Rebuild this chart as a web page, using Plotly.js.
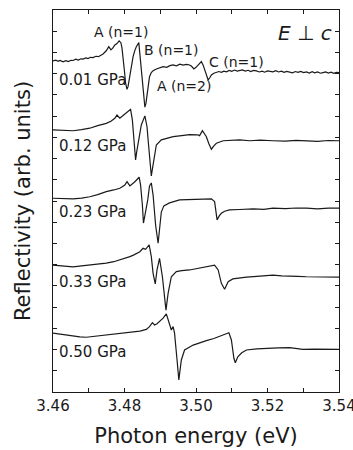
<!DOCTYPE html>
<html>
<head>
<meta charset="utf-8">
<script src="https://cdn.plot.ly/plotly-3.0.1.min.js"></script>
<style>html,body{margin:0;padding:0;background:#fff;}#chart{width:353px;height:450px;}</style>
</head>
<body>
<div id="chart"></div>
<script>
// Photon energy (eV) and reflectivity (arb. units, vertically offset) for each pressure
const energy001 = [3.4600,3.4608,3.4614,3.4620,3.4628,3.4636,3.4643,3.4650,3.4656,3.4664,3.4671,3.4678,3.4684,3.4692,3.4698,3.4705,3.4712,3.4720,3.4727,3.4733,3.4740,3.4749,3.4756,3.4762,3.4767,3.4773,3.4779,3.4785,3.4790,3.4793,3.4796,3.4800,3.4803,3.4807,3.4810,3.4813,3.4818,3.4824,3.4829,3.4833,3.4840,3.4844,3.4848,3.4852,3.4855,3.4857,3.4860,3.4863,3.4866,3.4870,3.4875,3.4880,3.4889,3.4898,3.4908,3.4918,3.4927,3.4936,3.4945,3.4955,3.4964,3.4973,3.4980,3.4987,3.4994,3.5000,3.5006,3.5012,3.5015,3.5020,3.5024,3.5030,3.5034,3.5039,3.5043,3.5050,3.5057,3.5064,3.5071,3.5078,3.5085,3.5093,3.5100,3.5108,3.5115,3.5122,3.5130,3.5138,3.5146,3.5153,3.5161,3.5169,3.5177,3.5185,3.5192,3.5200,3.5208,3.5215,3.5223,3.5231,3.5239,3.5246,3.5254,3.5262,3.5270,3.5278,3.5285,3.5293,3.5301,3.5309,3.5317,3.5325,3.5332,3.5340,3.5348,3.5355,3.5363,3.5370,3.5378,3.5385,3.5393,3.5400];
const refl001 = [15.60,15.64,15.58,15.62,15.56,15.61,15.57,15.63,15.62,15.68,15.64,15.70,15.69,15.74,15.71,15.77,15.76,15.82,15.80,15.86,15.93,16.08,16.27,16.12,16.20,16.35,16.42,16.54,16.46,16.20,15.80,15.10,14.56,14.26,14.40,14.70,15.30,15.80,16.10,16.27,16.46,15.80,15.00,14.39,13.80,13.42,13.60,13.92,14.45,14.86,15.05,15.14,15.22,15.28,15.33,15.30,15.38,15.41,15.37,15.45,15.40,15.44,15.42,15.36,15.22,15.30,15.41,15.55,15.57,15.40,15.17,14.85,14.70,14.82,14.94,15.02,15.05,15.10,15.06,15.12,15.09,15.15,15.11,15.17,15.12,15.14,15.18,15.12,15.16,15.10,15.15,15.13,15.08,15.12,15.07,15.13,15.10,15.09,15.14,15.08,15.12,15.06,15.11,15.09,15.04,15.10,15.06,15.11,15.05,15.08,15.03,15.09,15.04,15.08,15.02,15.05,15.08,15.03,15.07,15.02,15.06,15.05];

const energy012 = [3.4600,3.4628,3.4656,3.4680,3.4703,3.4725,3.4749,3.4762,3.4773,3.4779,3.4783,3.4787,3.4796,3.4805,3.4817,3.4822,3.4826,3.4829,3.4831,3.4834,3.4838,3.4847,3.4857,3.4863,3.4867,3.4870,3.4875,3.4878,3.4882,3.4889,3.4903,3.4920,3.4936,3.4960,3.4982,3.5004,3.5010,3.5018,3.5029,3.5036,3.5043,3.5050,3.5057,3.5076,3.5100,3.5122,3.5150,3.5180,3.5215,3.5250,3.5280,3.5309,3.5340,3.5370,3.5400];
const refl012 = [12.35,12.33,12.31,12.36,12.43,12.55,12.66,12.76,12.90,13.05,12.95,12.90,13.03,13.16,13.32,12.82,12.10,11.40,10.93,11.30,11.72,12.58,13.01,12.50,11.70,11.09,10.18,10.50,10.93,11.64,11.88,11.96,12.03,12.08,12.13,12.12,12.08,12.31,12.03,11.70,11.44,11.60,11.72,11.84,11.86,11.88,11.84,11.87,11.84,11.82,11.86,11.84,11.81,11.85,11.84];

const energy023 = [3.4600,3.4628,3.4656,3.4680,3.4703,3.4725,3.4749,3.4770,3.4787,3.4801,3.4807,3.4815,3.4822,3.4829,3.4841,3.4845,3.4850,3.4853,3.4858,3.4865,3.4870,3.4875,3.4880,3.4887,3.4894,3.4898,3.4903,3.4910,3.4926,3.4954,3.4980,3.5001,3.5025,3.5043,3.5052,3.5059,3.5065,3.5071,3.5080,3.5094,3.5122,3.5160,3.5190,3.5215,3.5250,3.5280,3.5309,3.5340,3.5370,3.5400];
const refl023 = [9.13,9.11,9.10,9.14,9.20,9.30,9.44,9.52,9.60,9.75,9.91,9.71,9.80,9.91,10.12,9.75,8.81,7.96,8.40,9.05,9.71,9.85,9.28,7.87,7.01,7.73,8.48,8.77,8.91,9.05,9.07,9.08,9.10,9.10,8.97,8.11,8.30,8.42,8.52,8.58,8.60,8.63,8.61,8.66,8.64,8.67,8.66,8.63,8.66,8.66];

const energy033 = [3.4600,3.4628,3.4656,3.4680,3.4703,3.4725,3.4749,3.4770,3.4787,3.4800,3.4815,3.4825,3.4833,3.4843,3.4852,3.4859,3.4869,3.4875,3.4880,3.4886,3.4891,3.4898,3.4906,3.4912,3.4916,3.4922,3.4931,3.4945,3.4960,3.4982,3.5005,3.5029,3.5045,3.5052,3.5062,3.5071,3.5080,3.5090,3.5103,3.5120,3.5141,3.5170,3.5195,3.5215,3.5240,3.5262,3.5285,3.5309,3.5340,3.5370,3.5400];
const refl033 = [5.98,5.93,5.90,5.94,5.98,6.02,6.07,6.14,6.22,6.30,6.38,6.45,6.54,6.61,6.77,6.72,6.93,6.38,5.59,5.09,5.75,6.30,5.43,4.34,3.86,4.65,5.43,5.67,5.72,5.75,5.82,5.88,5.94,5.98,5.75,5.12,4.84,5.20,5.33,5.38,5.41,5.45,5.48,5.51,5.47,5.47,5.45,5.43,5.42,5.43,5.41];

const energy050 = [3.4600,3.4628,3.4656,3.4675,3.4693,3.4720,3.4749,3.4775,3.4796,3.4820,3.4843,3.4861,3.4870,3.4878,3.4884,3.4891,3.4898,3.4908,3.4917,3.4926,3.4931,3.4936,3.4940,3.4947,3.4952,3.4959,3.4968,3.4992,3.5010,3.5029,3.5050,3.5066,3.5080,3.5092,3.5099,3.5106,3.5110,3.5117,3.5128,3.5141,3.5170,3.5197,3.5230,3.5262,3.5285,3.5299,3.5330,3.5355,3.5380,3.5400];
const refl050 = [2.77,2.70,2.64,2.60,2.58,2.63,2.69,2.73,2.77,2.82,2.87,2.95,3.08,3.27,3.16,3.22,3.31,3.48,3.68,3.24,2.92,3.08,2.77,1.51,0.57,1.51,1.98,2.21,2.32,2.42,2.52,2.61,2.70,2.79,2.45,1.59,1.38,1.66,1.85,1.98,2.03,2.06,2.08,2.09,2.05,2.01,2.02,2.01,2.00,2.01];

const pressureLabels = ['0.01 GPa','0.12 GPa','0.23 GPa','0.33 GPa','0.50 GPa'];
const labelLevels = [14.70, 11.57, 8.48, 5.18, 1.89];
const xTickVals = [3.46,3.47,3.48,3.49,3.50,3.51,3.52,3.53,3.54];
const xTickText = ['3.46','','3.48','','3.50','','3.52','','3.54'];
const peakLabels = ['A (n=1)','B (n=1)','C (n=1)','A (n=2)'];
const peakLabelX = [3.4708, 3.4848, 3.5030, 3.4884];
const peakLabelY = [16.97, 16.12, 15.55, 14.41];

const series = [[energy001, refl001],[energy012, refl012],[energy023, refl023],[energy033, refl033],[energy050, refl050]];
const FONT = '"DejaVu Sans", "Liberation Sans", Arial, sans-serif';
const INK = '#1a1a1a';

const traces = series.map((s, i) => ({
  x: s[0], y: s[1], type: 'scatter', mode: 'lines',
  line: {color: INK, width: 1.2}, name: pressureLabels[i], showlegend: false
}));

const annotations = [];
pressureLabels.forEach((t, i) => annotations.push({
  text: t, x: 3.4612, y: labelLevels[i], xref: 'x', yref: 'y',
  xanchor: 'left', yanchor: 'middle', showarrow: false,
  font: {family: FONT, size: 15, color: INK}
}));
peakLabels.forEach((t, i) => annotations.push({
  text: t, x: peakLabelX[i], y: peakLabelY[i], xref: 'x', yref: 'y',
  xanchor: 'left', yanchor: 'middle', showarrow: false,
  font: {family: FONT, size: 14, color: INK}
}));
annotations.push({
  text: '<i>E</i> ⊥ <i>c</i>', x: 3.5386, y: 16.92, xref: 'x', yref: 'y',
  xanchor: 'right', yanchor: 'middle', showarrow: false,
  font: {family: FONT, size: 20, color: INK}
});

const layout = {
  width: 353, height: 450,
  margin: {l: 53, r: 14, t: 10, b: 58},
  paper_bgcolor: '#fff', plot_bgcolor: '#fff',
  font: {family: FONT, color: INK},
  xaxis: {
    range: [3.46, 3.54], tickmode: 'array', tickvals: xTickVals, ticktext: xTickText,
    ticks: 'inside', ticklen: 4, tickwidth: 1, tickcolor: INK,
    showline: true, linecolor: INK, linewidth: 1, mirror: 'ticks',
    showgrid: false, zeroline: false, ticklabeloverflow: 'allow',
    tickfont: {family: FONT, size: 15, color: INK},
    title: {text: 'Photon energy (eV)', font: {family: FONT, size: 21, color: INK}, standoff: 14}
  },
  yaxis: {
    range: [0, 18], dtick: 1, tick0: 0,
    ticks: 'inside', ticklen: 4, tickwidth: 1, tickcolor: INK,
    showline: true, linecolor: INK, linewidth: 1, mirror: 'ticks',
    showgrid: false, zeroline: false, showticklabels: false,
    title: {text: 'Reflectivity (arb. units)', font: {family: FONT, size: 21, color: INK}, standoff: 15}
  },
  annotations: annotations
};

Plotly.newPlot('chart', traces, layout, {staticPlot: true, displayModeBar: false});
</script>
</body>
</html>
